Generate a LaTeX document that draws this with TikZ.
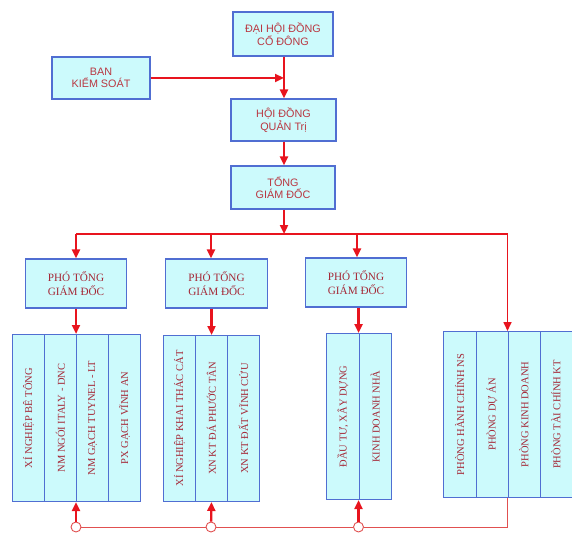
\documentclass[tikz,border=0pt]{standalone}
\usepackage{fontspec}
\setmainfont{Liberation Serif}
\newfontfamily\sansf{Liberation Sans}
\usetikzlibrary{arrows.meta}
\definecolor{boxfill}{RGB}{204,250,252}
\definecolor{boxline}{RGB}{80,110,210}
\definecolor{txtred}{RGB}{165,40,55}
\definecolor{sanstxt}{RGB}{185,55,65}
\definecolor{arrred}{RGB}{232,20,30}
\definecolor{thinred}{RGB}{225,80,80}
\tikzset{
  topbox/.style={draw=boxline, line width=1.1pt, fill=boxfill, text=sanstxt, align=center,
    font=\sansf\fontsize{10.8}{12.5}\selectfont, inner sep=0pt},
  phobox/.style={draw=boxline, line width=1.1pt, fill=boxfill, text=txtred, align=center,
    font=\fontsize{11.2}{14}\selectfont, inner sep=0pt, minimum height=49pt},
  colbox/.style={draw=boxline, line width=1pt, fill=boxfill, text=txtred, inner sep=0pt,
    font=\fontsize{10.5}{12}\selectfont, anchor=north west},
  redarrow/.style={draw=arrred, line width=2.3pt, -{Triangle[length=9pt,width=8pt]}},
  busline/.style={draw=arrred, line width=1.6pt},
  thinline/.style={draw=thinred, line width=0.9pt},
  joint/.style={circle, draw=thinred, line width=0.9pt, fill=white, minimum size=10pt, inner sep=0pt}
}
\begin{document}
\begin{tikzpicture}[x=1pt,y=-1pt]
\useasboundingbox (0,0) rectangle (572,548);
% top nodes
\node[topbox, minimum width=100pt, minimum height=44pt] (dh) at (283,34) {ĐẠI HỘI ĐỒNG\\CỔ ĐÔNG};
\node[topbox, minimum width=98pt, minimum height=42pt] (bks) at (101,78) {BAN\\KIỂM SOÁT};
\node[topbox, minimum width=105pt, minimum height=42pt] (hd) at (283.5,120) {HỘI ĐỒNG\\QUẢN Trị};
\node[topbox, minimum width=104pt, minimum height=43pt] (tgd) at (283,187.5) {TỔNG\\GIÁM ĐỐC};
% pho tong giam doc
\node[phobox, minimum width=101pt] (p1) at (76,283.5) {PHÓ TỔNG\\GIÁM ĐỐC};
\node[phobox, minimum width=102pt] (p2) at (216.5,283.5) {PHÓ TỔNG\\GIÁM ĐỐC};
\node[phobox, minimum width=101pt] (p3) at (356,282.5) {PHÓ TỔNG\\GIÁM ĐỐC};
% groups
\node[colbox, minimum width=32pt, minimum height=167pt] (g1a) at (12,334) {\rotatebox{90}{XÍ NGHIỆP BÊ TÔNG}};
\node[colbox, minimum width=32pt, minimum height=167pt] (g1b) at (44,334) {\rotatebox{90}{NM NGÓI ITALY - DNC}};
\node[colbox, minimum width=32pt, minimum height=167pt] (g1c) at (76,334) {\rotatebox{90}{NM GẠCH TUYNEL - LT}};
\node[colbox, minimum width=32pt, minimum height=167pt] (g1d) at (108,334) {\rotatebox{90}{PX GẠCH VĨNH AN}};
\node[colbox, minimum width=32pt, minimum height=166pt] (g2a) at (163,335) {\rotatebox{90}{XÍ NGHIỆP KHAI THÁC CÁT}};
\node[colbox, minimum width=32pt, minimum height=166pt] (g2b) at (195,335) {\rotatebox{90}{XN KT ĐÁ PHƯỚC TÂN}};
\node[colbox, minimum width=32pt, minimum height=166pt] (g2c) at (227,335) {\rotatebox{90}{XN KT ĐẤT VĨNH CỬU}};
\node[colbox, minimum width=32.5pt, minimum height=166pt] (g3a) at (326,333) {\rotatebox{90}{ĐẦU TƯ, XÂY DỰNG}};
\node[colbox, minimum width=32.5pt, minimum height=166pt] (g3b) at (358.5,333) {\rotatebox{90}{KINH DOANH NHÀ}};
\node[colbox, minimum width=32.5pt, minimum height=166pt] (g4a) at (443,331) {\rotatebox{90}{PHÒNG HÀNH CHÍNH NS}};
\node[colbox, minimum width=32pt, minimum height=166pt] (g4b) at (475.5,331) {\rotatebox{90}{PHÒNG DỰ ÁN}};
\node[colbox, minimum width=32pt, minimum height=166pt] (g4c) at (507.5,331) {\rotatebox{90}{PHÒNG KINH DOANH}};
\node[colbox, minimum width=32pt, minimum height=166pt] (g4d) at (539.5,331) {\rotatebox{90}{PHÒNG TÀI CHÍNH KT}};
% joints
\node[joint] (c1) at (76,527) {};
\node[joint] (c2) at (211,527) {};
\node[joint] (c3) at (358.5,527) {};
% bus coordinates
\coordinate (b0) at (284,234);
\coordinate (b1) at (76,234);
\coordinate (b2) at (211,234);
\coordinate (b3) at (357,234);
\coordinate (b4) at (507.5,234);
\coordinate (jn) at (284,78);
\coordinate (br) at (507.5,527);
% connectors top
\draw[redarrow] (bks.east) -- (jn);
\draw[redarrow] (dh.south -| jn) -- (hd.north -| jn);
\draw[redarrow] (hd.south -| jn) -- (tgd.north -| jn);
\draw[redarrow] (tgd.south -| jn) -- (b0);
\draw[busline] (b1) -- (b4);
\draw[redarrow] (b1) -- (p1.north -| b1);
\draw[redarrow] (b2) -- (p2.north -| b2);
\draw[redarrow] (b3) -- (p3.north -| b3);
\draw[draw=arrred, line width=1.6pt, -{Triangle[length=9pt,width=8pt]}] (b4) -- (g4c.north west);
% pho to groups
\draw[redarrow] (p1.south -| g1c.north west) -- (g1c.north west);
\draw[redarrow] (p2.south -| g2b.north) -- (g2b.north);
\draw[redarrow] (p3.south -| g3b.north west) -- (g3b.north west);
% bottom links
\draw[thinline] (c1) -- (c2);
\draw[thinline] (c2) -- (c3);
\draw[thinline] (c3) -- (br) -- (g4c.south west);
\draw[redarrow] (c1) -- (g1c.south west);
\draw[redarrow] (c2) -- (g2b.south);
\draw[redarrow] (c3) -- (g3b.south west);
\end{tikzpicture}
\end{document}
